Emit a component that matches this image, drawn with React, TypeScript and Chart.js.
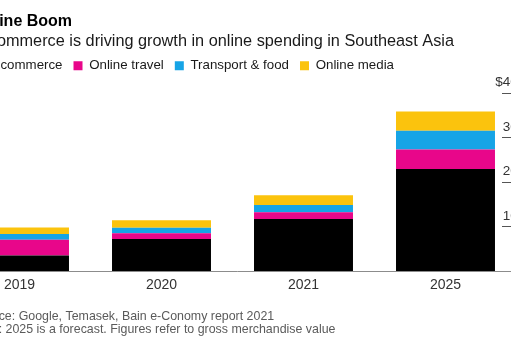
import React, { useEffect, useRef } from 'react';
import { Chart, registerables } from 'chart.js';

Chart.register(...registerables);

// ---- data ----
const categories = ['2019', '2020', '2021', '2025'];
const seriesNames = ['E-commerce', 'Online travel', 'Transport & food', 'Online media'];
const ecommerce = [36, 73, 118, 230];
const onlineTravel = [35, 13, 15, 44];
const transportFood = [13, 12, 16, 42];
const onlineMedia = [15, 17, 22, 43];
const yTickValues = [0, 100, 200, 300, 400];
const yTickLabels = ['', '100', '200', '300', '$400B'];
const titleText = 'Online Boom';
const subtitleText = 'E-commerce is driving growth in online spending in Southeast Asia';
const footerLines = [
  'Source: Google, Temasek, Bain e-Conomy report 2021',
  'Note: 2025 is a forecast. Figures refer to gross merchandise value',
];

// ---- styles ----
const FONT = '"Liberation Sans", Arial, Helvetica, sans-serif';
const COLORS = ['#000000', '#e8068a', '#16a4e6', '#fbc30d'];

const legendAdjust = {
  id: 'legendAdjust',
  beforeInit(chart: any) {
    const legend = chart.legend;
    if (!legend) return;
    const origFit = legend.fit;
    legend.fit = function () {
      origFit.call(this);
      this.height += 10.8;
    };
  },
  afterLayout(chart: any) {
    const lg = chart.legend;
    if (!lg) return;
    lg.left -= 12;
    lg.right -= 12;
  },
};

// right-axis labels sit above their tick line, with the currency sign hanging left
const yLabelPlugin = {
  id: 'yLabels',
  afterDraw(chart: any) {
    const { ctx } = chart;
    const scale = chart.scales.y;
    ctx.save();
    ctx.font = `13.5px ${FONT}`;
    ctx.fillStyle = '#333333';
    ctx.textAlign = 'left';
    ctx.textBaseline = 'middle';
    scale.ticks.forEach((t: any) => {
      const i = yTickValues.indexOf(t.value);
      const label = i >= 0 ? yTickLabels[i] : '';
      if (!label) return;
      let x = scale.left + 1.2;
      if (label.startsWith('$')) x -= ctx.measureText('$').width;
      ctx.fillText(label, x, scale.getPixelForValue(t.value) - 10.8);
    });
    ctx.restore();
  },
};

const footerPlugin = {
  id: 'footerNotes',
  afterDraw(chart: any) {
    const { ctx, chartArea } = chart;
    ctx.save();
    ctx.font = `12.4px ${FONT}`;
    ctx.fillStyle = '#5a5a5a';
    ctx.textAlign = 'left';
    ctx.textBaseline = 'alphabetic';
    footerLines.forEach((t, i) => {
      ctx.fillText(t, chartArea.left, chartArea.bottom + 48.2 + i * 13.3);
    });
    ctx.restore();
  },
};

export default function App() {
  const ref = useRef<HTMLCanvasElement | null>(null);

  useEffect(() => {
    if (!ref.current) return;
    Chart.defaults.font.family = FONT;
    const series = [ecommerce, onlineTravel, transportFood, onlineMedia];
    const chart = new Chart(ref.current, {
      type: 'bar',
      data: {
        datasets: series.map((vals, k) => ({
          label: seriesNames[k],
          data: vals.map((v, i) => ({ x: i, y: v })),
          backgroundColor: COLORS[k],
          borderWidth: 0,
          stack: 'gmv',
          barPercentage: 0.697,
          categoryPercentage: 1,
        })),
      },
      options: {
        responsive: false,
        animation: false,
        events: [],
        layout: { padding: { left: 12.5, right: 0, top: 0, bottom: 0 } },
        plugins: {
          title: {
            display: true,
            text: titleText,
            align: 'start',
            color: '#000000',
            font: { size: 16, weight: 'bold', lineHeight: 1.2 },
            padding: { top: 12.4, bottom: 0 },
          },
          subtitle: {
            display: true,
            text: subtitleText,
            align: 'start',
            color: '#1a1a1a',
            font: { size: 16.3, lineHeight: 1.2 },
            padding: { top: 0, bottom: -3 },
          },
          legend: {
            display: true,
            position: 'top',
            align: 'start',
            labels: {
              boxWidth: 9,
              boxHeight: 9,
              padding: 11,
              color: '#1a1a1a',
              font: { size: 13.3 },
            },
          },
          tooltip: { enabled: false },
        },
        scales: {
          x: {
            type: 'linear',
            min: -0.331,
            max: 3.3944,
            bounds: 'data',
            offset: false,
            grid: { display: false, drawTicks: false },
            border: { display: false },
            afterBuildTicks: (s: any) => {
              s.ticks = categories.map((_, i) => ({ value: i }));
            },
            ticks: {
              autoSkip: false,
              maxRotation: 0,
              minRotation: 0,
              padding: 5.3,
              color: '#333333',
              font: { size: 14 },
              callback: (v: any) => categories[v as number] ?? '',
            },
            afterFit: (s: any) => {
              s.height = 78.5;
            },
          },
          y: {
            type: 'linear',
            position: 'right',
            stacked: true,
            min: 0,
            max: 400,
            z: 1,
            grid: {
              drawTicks: true,
              tickLength: 40,
              lineWidth: 1,
              color: (c: any) => (c.tick && c.tick.value === 0 ? '#8c8c8c' : 'rgba(0,0,0,0)'),
              tickColor: (c: any) => (c.tick && c.tick.value === 0 ? '#8c8c8c' : '#555555'),
            },
            border: { display: false },
            ticks: {
              stepSize: 100,
              display: false,
            },
            afterFit: (s: any) => {
              s.width = 60.5;
            },
          },
        },
      } as any,
      plugins: [legendAdjust, yLabelPlugin, footerPlugin],
    });
    return () => chart.destroy();
  }, []);

  return (
    <div
      style={{
        position: 'fixed',
        left: 0,
        top: 0,
        width: 511,
        height: 350,
        overflow: 'hidden',
        background: '#ffffff',
      }}
    >
      <canvas
        ref={ref}
        width={602}
        height={350}
        style={{ position: 'absolute', left: -40, top: 0, width: 602, height: 350 }}
      />
    </div>
  );
}
